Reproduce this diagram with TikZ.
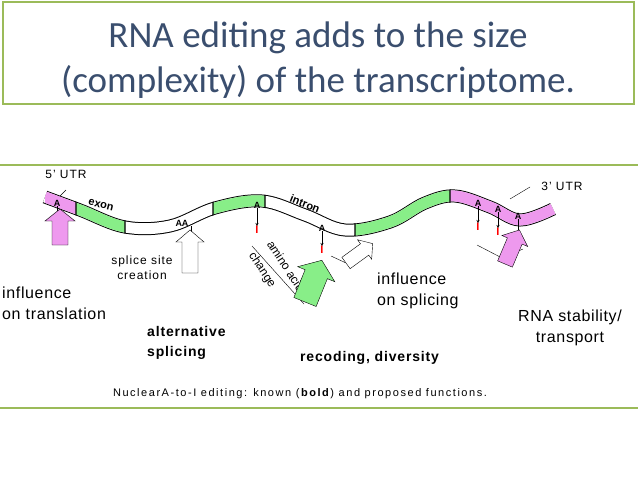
\documentclass[tikz,border=0pt]{standalone}
\usepackage{fontspec}
\setmainfont{Liberation Sans}
\newfontfamily\titlefont{Carlito}
\usetikzlibrary{positioning}
\definecolor{framegreen}{HTML}{9BBB59}
\definecolor{titleblue}{HTML}{3A4E6E}
\definecolor{exongreen}{HTML}{88EE88}
\definecolor{utrpink}{HTML}{EE99EE}
\newcommand{\edI}{\textcolor{red}{\textbf{I}}}
% \fatarrow{tail}{angle}{length}{half body}{half head}{head length}{fill}
\newcommand{\fatarrow}[7]{%
  \begin{scope}[shift={#1},rotate=#2]
    \draw [fill=#7] (0,-#4) -- (#3-#6,-#4) -- (#3-#6,-#5) -- (#3,0) -- (#3-#6,#5) -- (#3-#6,#4) -- (0,#4) -- cycle;
  \end{scope}}
\tikzset{
  lbl/.style={font=\fontsize{16}{21}\selectfont\addfontfeatures{LetterSpace=4},align=left,inner sep=0pt},
  smalllbl/.style={font=\fontsize{12}{15}\selectfont\addfontfeatures{LetterSpace=8},inner sep=0pt},
  boldlbl/.style={font=\bfseries\fontsize{14}{20}\selectfont\addfontfeatures{LetterSpace=6},align=left,inner sep=0pt},
  site/.style={font=\bfseries\fontsize{9}{9}\selectfont,inner sep=0pt},
}
\newcommand{\strand}{plot[smooth,tension=0.6] coordinates {(45,197) (80,210) (125,227) (170,226) (215,208) (262,201) (305,215) (345,230) (390,222) (425,203) (455,196) (490,207) (520,220) (553,209)}}
\begin{document}
\begin{tikzpicture}[x=1pt,y=-1pt]
  \useasboundingbox (0,0) rectangle (638,479);
  % title
  \draw [framegreen,line width=1.2pt] (3,2) rectangle (634,104);
  \node (title) at (318,60) [text=titleblue,align=center,font=\titlefont\fontsize{37}{45}\selectfont] {RNA editing adds to the size\\(complexity) of the transcriptome.};
  \draw [framegreen,line width=1.2pt] (0,165) -- (638,165);
  \draw [framegreen,line width=1.2pt] (0,408) -- (638,408);

  % strand
  \draw [line width=13pt] \strand;
  \draw [white,line width=11pt] \strand;
  \begin{scope}
    \clip (45,150) rectangle (76,260) (450,150) rectangle (560,260);
    \draw [utrpink,line width=11pt] \strand;
  \end{scope}
  \begin{scope}
    \clip (76,150) rectangle (125,260) (213,150) rectangle (265,260) (355,150) rectangle (450,260);
    \draw [exongreen,line width=11pt] \strand;
  \end{scope}
  \foreach \x in {76,125,213,265,355,450} {
    \begin{scope}\clip (\x-0.6,150) rectangle (\x+0.6,260); \draw [line width=13pt] \strand; \end{scope}
  }

  % labels on the strand
  \node (utr5) at (66,174) [smalllbl] {5' UTR};
  \node (exon) at (101,205) [site,rotate=-14,font=\bfseries\fontsize{11}{11}\selectfont] {exon};
  \node (intron) at (305,204) [site,rotate=-22,font=\bfseries\fontsize{11}{11}\selectfont] {intron};
  \node (utr3) at (562,186) [smalllbl] {3' UTR};
  \draw (510,199) -- (530,187);
  \draw (60,196) -- (66,190);

  % editing sites
  \foreach \n/\x/\y/\t in {s1/57/203/A, s2/182/223/AA, s3/257/205/A, s4/322/228/A, s5/478/203/A, s6/498/209/A, s7/518/216/A} {
    \node (\n) at (\x,\y) [site] {\t};
  }
  \foreach \n/\x/\y in {s1/57/227, s3/257/230, s4/322/250, s5/478/227, s6/498/232, s7/518/239} {
    \node (\n i) at (\x,\y) [site,font=\bfseries\fontsize{11}{11}\selectfont] {\edI};
    \draw [->,>=stealth] (\n.south) -- (\n i.north);
  }
  \node (s2i) at (190,242) [site,font=\bfseries\fontsize{11}{11}\selectfont] {A\,\edI};
  \draw [->,>=stealth] (191,226) -- (191,235);

  % functions
  \fatarrow{(60,245)}{90}{36}{8}{15}{12}{utrpink}
  \node (translt) at (2,303) [lbl,anchor=west] {influence\\on translation};

  \node (splcr) at (142,268) [smalllbl,align=center] {splice site\\creation};
  \draw (190,258) -- (190,273);
  \fatarrow{(190,273)}{90}{43}{8}{14}{12}{white}
  \node (altsplt) at (147,343) [boldlbl,anchor=west] {alternative\\splicing};

  \coordinate (aa1) at (252,246);
  \coordinate (aa2) at (304,304);
  \draw (aa1) -- (aa2);
  \node (aat1) at (286,266) [font=\fontsize{12}{13}\selectfont,rotate=-57,inner sep=0pt] {amino acid};
  \node (aat2) at (262,270) [font=\fontsize{12}{13}\selectfont,rotate=-57,inner sep=0pt] {change};
  \fatarrow{(305,302)}{68}{45}{12}{20}{15}{exongreen}
  \node (recodt) at (300,358) [boldlbl,anchor=west] {recoding, diversity};

  \draw (331,256) -- (346,263);
  \fatarrow{(346,263)}{36}{33}{7}{12}{10}{white}
  \node (splt) at (377,291) [lbl,anchor=west] {influence\\on splicing};

  \draw (477,245) -- (502,258) -- (523,249);
  \draw (502,258) -- (505,264);
  \fatarrow{(505,264)}{67}{37}{8}{14}{12}{utrpink}
  \node (stabt) at (570,328) [lbl,align=center] {RNA stability/\\transport};

  \node (caption) at (300,394) [font=\fontsize{11}{12}\selectfont\addfontfeatures{LetterSpace=14},inner sep=0pt] {NuclearA-to-I editing: known (\textbf{bold}) and proposed functions.};
\end{tikzpicture}
\end{document}
